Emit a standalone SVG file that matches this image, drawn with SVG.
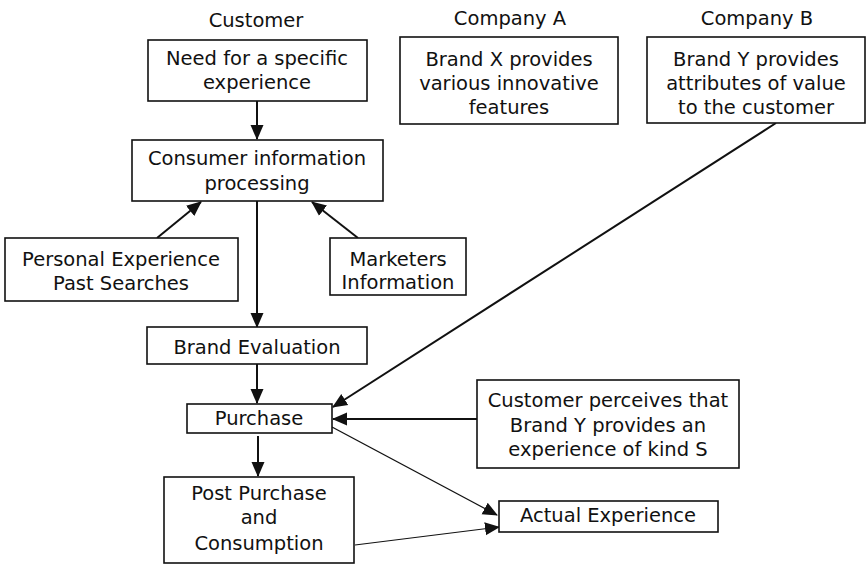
<svg xmlns="http://www.w3.org/2000/svg" width="866" height="564" viewBox="0 0 866 564">
<defs>
<style>
text{font-family:"DejaVu Sans","Liberation Sans",sans-serif;font-size:19.5px;fill:#111;text-anchor:middle;letter-spacing:0px}
.box{fill:#fff;stroke:#111;stroke-width:1.6}
.c{stroke:#111;stroke-width:2;fill:none}
.t{stroke:#111;stroke-width:1.2;fill:none}
</style>
<marker id="ah" markerUnits="userSpaceOnUse" markerWidth="15" markerHeight="15" viewBox="0 0 15 15" refX="14" refY="7.5" orient="auto">
<path d="M0,1 L15,7.5 L0,14 Z" fill="#111"/>
</marker>
</defs>
<rect width="866" height="564" fill="#fff"/>
<g id="labels">
<text x="256" y="27">Customer</text>
<text x="510" y="25">Company A</text>
<text x="757" y="25">Company B</text>
</g>
<g id="connectors">
<line class="c" x1="257" y1="101" x2="257" y2="139" marker-end="url(#ah)"/>
<line class="c" x1="257" y1="200" x2="257" y2="327" marker-end="url(#ah)"/>
<line class="c" x1="257" y1="364" x2="257" y2="403" marker-end="url(#ah)"/>
<line class="c" x1="258" y1="436" x2="258" y2="476" marker-end="url(#ah)"/>
<line class="c" x1="157" y1="238" x2="201" y2="202" marker-end="url(#ah)"/>
<line class="c" x1="358" y1="238" x2="312" y2="202" marker-end="url(#ah)"/>
<line class="c" x1="776" y1="123" x2="333" y2="407" marker-end="url(#ah)"/>
<line class="c" x1="477" y1="419" x2="333" y2="419" marker-end="url(#ah)"/>
<line class="t" x1="332" y1="427" x2="497" y2="515" marker-end="url(#ah)"/>
<line class="t" x1="355" y1="545" x2="499" y2="527" marker-end="url(#ah)"/>
</g>
<g id="need">
<rect class="box" x="148" y="40" width="219" height="61"/>
<text x="257" y="65">Need for a specific</text>
<text x="257" y="89">experience</text>
</g>
<g id="brandx">
<rect class="box" x="400" y="37" width="218" height="87"/>
<text x="509" y="66">Brand X provides</text>
<text x="509" y="90">various innovative</text>
<text x="509" y="114">features</text>
</g>
<g id="brandy">
<rect class="box" x="647" y="37" width="218" height="86"/>
<text x="756" y="66">Brand Y provides</text>
<text x="756" y="90">attributes of value</text>
<text x="756" y="114">to the customer</text>
</g>
<g id="cip">
<rect class="box" x="132" y="140" width="251" height="61"/>
<text x="257" y="165">Consumer information</text>
<text x="257" y="190">processing</text>
</g>
<g id="personal">
<rect class="box" x="5" y="238" width="233" height="63"/>
<text x="121" y="266">Personal Experience</text>
<text x="121" y="290">Past Searches</text>
</g>
<g id="marketers">
<rect class="box" x="330" y="238" width="136" height="57"/>
<text x="398" y="266">Marketers</text>
<text x="398" y="289">Information</text>
</g>
<g id="evaluation">
<rect class="box" x="147" y="327" width="220" height="37"/>
<text x="257" y="354">Brand Evaluation</text>
</g>
<g id="purchase">
<rect class="box" x="187" y="404" width="145" height="29"/>
<text x="259" y="425">Purchase</text>
</g>
<g id="perceives">
<rect class="box" x="477" y="380" width="262" height="88"/>
<text x="608" y="407">Customer perceives that</text>
<text x="608" y="432">Brand Y provides an</text>
<text x="608" y="456">experience of kind S</text>
</g>
<g id="post">
<rect class="box" x="164" y="477" width="190" height="86"/>
<text x="259" y="500">Post Purchase</text>
<text x="259" y="524">and</text>
<text x="259" y="550">Consumption</text>
</g>
<g id="actual">
<rect class="box" x="499" y="501" width="219" height="31"/>
<text x="608" y="522">Actual Experience</text>
</g>
</svg>
